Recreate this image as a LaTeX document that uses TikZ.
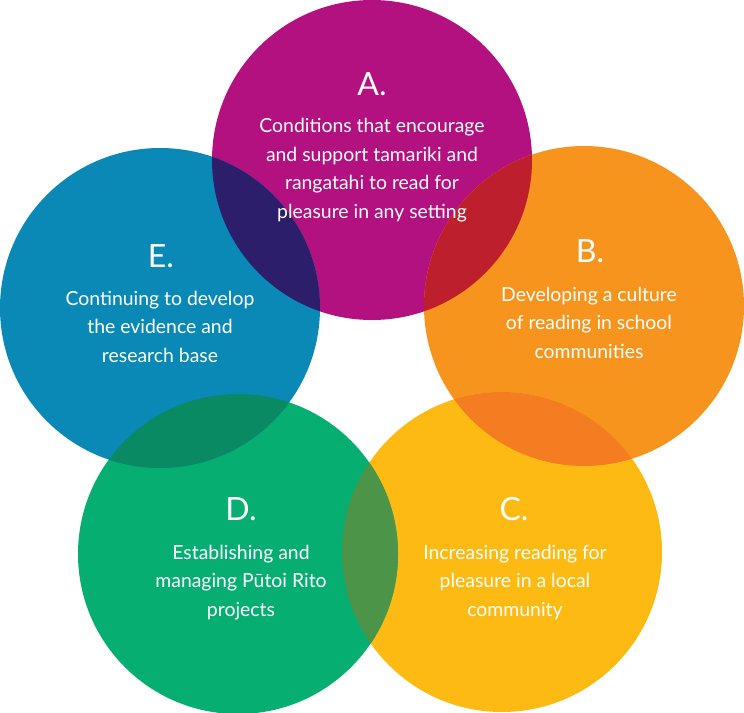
\documentclass[tikz,border=0pt]{standalone}
\usepackage{fontspec}
\setmainfont{Lato}
\usetikzlibrary{positioning}

\definecolor{cola}{HTML}{B3117F}
\definecolor{colb}{HTML}{F7941D}
\definecolor{colc}{HTML}{FDBA12}
\definecolor{cold}{HTML}{06AE72}
\definecolor{cole}{HTML}{0B89B6}
\definecolor{colab}{HTML}{BD1F2D}
\definecolor{colbc}{HTML}{F37D20}
\definecolor{colcd}{HTML}{4C9448}
\definecolor{colde}{HTML}{0A8A62}
\definecolor{colea}{HTML}{2D1E6C}

\begin{document}
\begin{tikzpicture}[x=0.5pt, y=-0.5pt,
  letter/.style={text=white, anchor=base, inner sep=0pt, font=\fontsize{16}{16}\selectfont},
  body/.style={text=white, anchor=base, inner sep=0pt, align=center, font=\fontsize{9.7}{14.25}\selectfont}]
  \useasboundingbox (0,0) rectangle (744,712);

  % circle centres
  \coordinate (ca) at (372,160);
  \coordinate (cb) at (584,306);
  \coordinate (cc) at (502,552);
  \coordinate (cd) at (238,554);
  \coordinate (ce) at (160,308);

  \fill[cola] (ca) circle [radius=80pt];
  \fill[colb] (cb) circle [radius=80pt];
  \fill[colc] (cc) circle [radius=80pt];
  \fill[cold] (cd) circle [radius=80pt];
  \fill[cole] (ce) circle [radius=80pt];

  %% overlaps
  \begin{scope}
    \clip (ca) circle [radius=80pt];
    \fill[colab] (cb) circle [radius=80pt];
    \fill[colea] (ce) circle [radius=80pt];
  \end{scope}
  \begin{scope}
    \clip (cc) circle [radius=80pt];
    \fill[colbc] (cb) circle [radius=80pt];
    \fill[colcd] (cd) circle [radius=80pt];
  \end{scope}
  \begin{scope}
    \clip (cd) circle [radius=80pt];
    \fill[colde] (ce) circle [radius=80pt];
  \end{scope}

  % texts (body nodes sit on the baseline of their last line)
  \node (la) at (372,95) [letter] {A.};
  \node (ta) at (372,218) [body] {Conditions that encourage\\and support tamariki and\\rangatahi to read for\\pleasure in any setting};

  \node (lb) at (590,262) [letter] {B.};
  \node (tb) at (589,358) [body] {Developing a culture\\of reading in school\\communities};

  \node (lc) at (514,520) [letter] {C.};
  \node (tc) at (515,616) [body] {Increasing reading for\\pleasure in a local\\community};

  \node (ld) at (241,520) [letter] {D.};
  \node (td) at (241,616) [body] {Establishing and\\managing Pūtoi Rito\\projects};

  \node (le) at (161,267) [letter] {E.};
  \node (te) at (160,362) [body] {Continuing to develop\\the evidence and\\research base};
\end{tikzpicture}
\end{document}
